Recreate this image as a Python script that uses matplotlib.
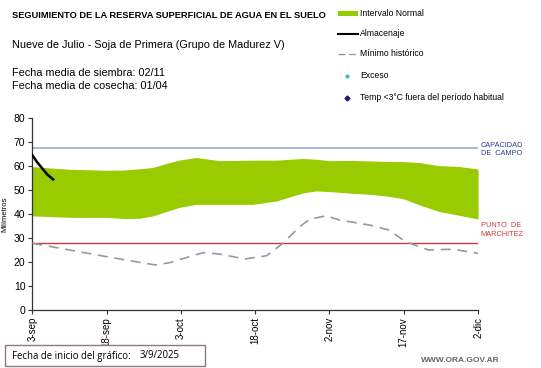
import matplotlib
matplotlib.use("Agg")
import matplotlib.pyplot as plt
import matplotlib.dates as mdates
from matplotlib.lines import Line2D
import numpy as np
import datetime as dt

plt.rcParams['font.family'] = ['Liberation Sans', 'DejaVu Sans']

start = dt.date(2025, 9, 3)

# Normal interval (days since start, upper, lower)
band_days = [0, 7.6, 15, 18.4, 21.7, 24.4, 27, 29.8, 33.1, 37.8, 44.5, 49.3, 54.6, 57.3, 60, 64.7, 68, 71.4, 74.8, 78.2, 82.2, 86, 90]
band_upper = [59.7, 58.6, 58.2, 58.3, 58.8, 59.4, 61.0, 62.5, 63.5, 62.2, 62.4, 62.4, 63.1, 62.8, 62.2, 62.3, 62.1, 61.9, 61.8, 61.4, 60.1, 59.8, 58.7]
band_lower = [39.2, 38.6, 38.6, 38.1, 38.2, 39.2, 41.0, 42.8, 44.0, 44.0, 44.0, 45.4, 48.75, 49.6, 49.3, 48.6, 48.2, 47.5, 46.4, 43.75, 41.0, 39.5, 37.9]

# Historical minimum
min_days = [0, 15, 24.8, 27.7, 34.5, 37.8, 42.9, 47.3, 50.6, 54, 56, 59.3, 62, 68, 72, 75.3, 80, 84.9, 90]
min_vals = [27.8, 22.2, 18.75, 19.7, 23.9, 23.3, 21.25, 22.6, 27.8, 34.7, 37.8, 39.2, 37.5, 35.4, 33.3, 28.5, 25.0, 25.3, 23.6]

# Storage (Almacenaje)
alm_days = [0, 1, 2, 3, 4.2]
alm_vals = [64.5, 61.5, 59.0, 56.5, 54.4]

capacidad = 67.6
marchitez = 28.0

tick_labels = ['3-sep', '18-sep', '3-oct', '18-oct', '2-nov', '17-nov', '2-dic']
tick_days = [0, 15, 30, 45, 60, 75, 90]

def to_dates(days):
    return [dt.datetime.combine(start, dt.time()) + dt.timedelta(days=d) for d in days]

fig = plt.figure(figsize=(5.41, 3.68), dpi=100)
ax = fig.add_axes([0.0597, 0.1576, 0.824, 0.522])

ax.fill_between(to_dates(band_days), band_lower, band_upper, color='#99cc00', linewidth=0, zorder=1)
ax.axhline(capacidad, color='#a4b6cf', linewidth=1.3, zorder=2)
ax.axhline(marchitez, color='#cc3a3a', linewidth=1.0, zorder=2)
ax.plot(to_dates(min_days), min_vals, color='#999999', linewidth=1.2, dashes=(6, 4), zorder=3)
ax.plot(to_dates(alm_days), alm_vals, color='black', linewidth=1.8, zorder=4)

ax.set_ylim(0, 80)
ax.set_yticks(range(0, 81, 10))
ax.set_xlim(to_dates([0])[0], to_dates([90])[0])
ax.set_xticks(to_dates(tick_days))
ax.set_xticklabels(tick_labels, rotation=90, fontsize=7)
ax.tick_params(axis='y', labelsize=7.5, length=3, color='#333333', pad=2)
ax.tick_params(axis='x', length=3, color='#333333', pad=2)
for s in ['top', 'right']:
    ax.spines[s].set_visible(False)
for s in ['left', 'bottom']:
    ax.spines[s].set_color('#333333')
    ax.spines[s].set_linewidth(0.9)
ax.set_ylabel('Milímetros', fontsize=5.5, labelpad=4)

ax.text(1.006, capacidad - 0.9, 'CAPACIDAD\nDE  CAMPO', transform=ax.get_yaxis_transform(),
        color='#2b3d9b', fontsize=5.3, va='center', ha='left', linespacing=1.25)
ax.text(1.006, marchitez + 5.3, 'PUNTO  DE\nMARCHITEZ', transform=ax.get_yaxis_transform(),
        color='#cc3a3a', fontsize=5.3, va='center', ha='left', linespacing=1.25)

# Header texts
fig.text(12/541, 1 - 15/368, 'SEGUIMIENTO DE LA RESERVA SUPERFICIAL DE AGUA EN EL SUELO',
         fontsize=6.7, fontweight='bold', va='center', ha='left')
fig.text(12/541, 1 - 45/368, 'Nueve de Julio - Soja de Primera (Grupo de Madurez V)',
         fontsize=7.8, va='center', ha='left')
fig.text(12/541, 1 - 73/368, 'Fecha media de siembra: 02/11', fontsize=7.8, va='center', ha='left')
fig.text(12/541, 1 - 86/368, 'Fecha media de cosecha: 01/04', fontsize=7.8, va='center', ha='left')

# Legend (manual)
lx0, lx1 = 338/541, 358/541
fig.patches.append(plt.Rectangle((lx0, 1 - 16/368), lx1 - lx0, 5/368, transform=fig.transFigure,
                                 color='#99cc00', linewidth=0))
fig.text(360/541, 1 - 13/368, 'Intervalo Normal', fontsize=6.2, va='center', ha='left')
fig.lines.append(Line2D([lx0, lx1], [1 - 34/368] * 2, transform=fig.transFigure, color='black', linewidth=1.5))
fig.text(360/541, 1 - 34/368, 'Almacenaje', fontsize=6.2, va='center', ha='left')
fig.lines.append(Line2D([lx0, lx1], [1 - 54/368] * 2, transform=fig.transFigure, color='#999999',
                        linewidth=1.0, dashes=(5, 2.5)))
fig.text(360/541, 1 - 54/368, 'Mínimo histórico', fontsize=6.2, va='center', ha='left')
fig.lines.append(Line2D([347/541], [1 - 76/368], transform=fig.transFigure, marker='o', markersize=2,
                        color='#33c0d0', linestyle='none'))
fig.text(360/541, 1 - 76/368, 'Exceso', fontsize=6.2, va='center', ha='left')
fig.lines.append(Line2D([347/541], [1 - 98/368], transform=fig.transFigure, marker='D', markersize=2.5,
                        color='#1a1a80', linestyle='none'))
fig.text(360/541, 1 - 98/368, 'Temp <3°C fuera del período habitual', fontsize=6.2, va='center', ha='left')

# Bottom box
fig.patches.append(plt.Rectangle((5/541, 1 - 366/368), 200/541, 21/368, transform=fig.transFigure,
                                 facecolor='white', edgecolor='#8c7a78', linewidth=1.0))
fig.text(12/541, 1 - 356/368, 'Fecha de inicio del gráfico:', fontsize=6.9,
         family=['Open Sans', 'DejaVu Sans'], va='center', ha='left')
fig.text(140/541, 1 - 356/368, '3/9/2025', fontsize=6.9,
         family=['Open Sans', 'DejaVu Sans'], va='center', ha='left')
fig.text(500/541, 1 - 360/368, 'WWW.ORA.GOV.AR', fontsize=6.0, color='#666666', fontweight='bold',
         va='center', ha='right')

fig.savefig('out.png', dpi=100)
